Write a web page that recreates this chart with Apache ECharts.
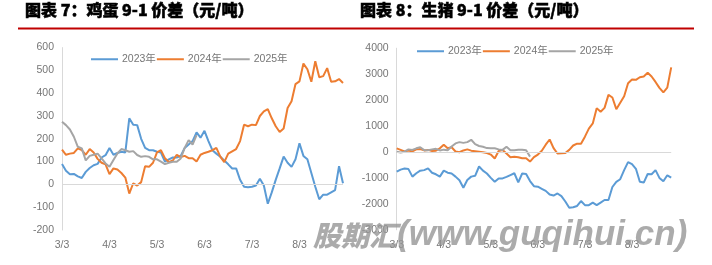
<!DOCTYPE html>
<html><head><meta charset="utf-8">
<script src="https://cdn.jsdelivr.net/npm/echarts@6/dist/echarts.min.js"></script>
<style>html,body{margin:0;padding:0;background:#fff}#c{width:712px;height:265px}</style>
</head><body><div id="c"></div>
<script>
// ---- data ----
const tickLabels = ['3/3', '4/3', '5/3', '6/3', '7/3', '8/3'];
const LABEL_STEP = 12;
const seriesNames = ['2023年', '2024年', '2025年'];
const titles = ['图表 7：鸡蛋 9-1 价差（元/吨）', '图表 8：生猪 9-1 价差（元/吨）'];
const watermarkCn = '股期汇';
const watermarkEn = '(www.guqihui.cn)';

const egg2023 = [89,60,45,46,35,28,55,72,84,90,118,128,160,130,138,143,140,290,262,260,200,160,150,150,143,140,100,110,118,118,125,160,175,190,228,205,235,190,150,135,121,105,88,70,70,20,-10,-12,-10,-5,25,-5,-85,-35,20,70,122,95,77,110,180,125,110,50,-10,-65,-45,-45,-35,-25,80,5];
const egg2024 = [152,130,135,138,158,150,130,155,140,112,95,88,45,70,65,50,30,-40,5,-5,10,80,77,95,140,150,115,98,105,130,120,125,115,115,100,130,138,143,150,160,122,98,135,145,155,190,262,255,262,260,300,320,330,290,255,230,245,335,365,440,452,530,505,450,540,470,475,510,450,452,462,445];
const egg2025 = [275,260,241,209,165,158,105,125,130,135,114,92,77,107,136,155,150,143,146,129,121,124,121,110,110,100,89,95,99,99,114,160,194,175,216];

const hog2023 = [-760,-680,-640,-660,-950,-820,-720,-700,-630,-800,-860,-950,-720,-800,-830,-950,-1090,-1380,-1080,-950,-920,-560,-720,-830,-1000,-1150,-1020,-1020,-960,-890,-820,-1170,-830,-850,-1120,-1320,-1340,-1420,-1500,-1640,-1680,-1600,-1700,-1910,-2150,-2130,-2080,-1890,-2050,-2050,-1950,-2050,-1950,-1850,-1850,-1350,-1150,-1050,-700,-390,-470,-650,-1150,-1180,-850,-860,-700,-1000,-1130,-900,-990];
const hog2024 = [140,80,20,60,20,100,110,60,80,40,50,140,280,140,180,20,-10,60,100,50,30,10,-10,-40,-100,-250,40,77,-60,-200,-180,-200,-240,-245,-370,-200,-100,50,280,480,150,-60,-50,-40,80,250,320,320,590,900,1100,1690,1550,1700,2200,2100,1650,1900,2150,2650,2790,2780,2880,2910,3050,2910,2700,2470,2300,2480,3260];
const hog2025 = [10,-20,10,100,80,140,180,70,70,100,120,60,90,70,210,330,380,350,380,470,300,230,200,150,140,140,100,80,200,70,70,90,90,70,-180];

const colors = ['#5B9BD5', '#ED7D31', '#A5A5A5'];

// ---- chart ----
const chart = echarts.init(document.getElementById('c'), null, {renderer: 'canvas'});
const cats = arr => arr.map((_, i) => 'd' + i);
const labelFont = {fontFamily: '"Liberation Sans", "Noto Sans CJK SC"', fontSize: 10.5, color: '#767676'};

function xAxisFor(gridIndex, arr) {
  return {
    type: 'category', gridIndex, data: cats(arr), boundaryGap: false,
    axisLine: {show: false, onZero: false}, axisTick: {show: false}, splitLine: {show: false},
    axisLabel: Object.assign({
      interval: LABEL_STEP - 1, margin: 10, hideOverlap: false,
      formatter: (v, idx) => (idx % LABEL_STEP === 0 ? (tickLabels[idx / LABEL_STEP] || '') : '')
    }, labelFont)
  };
}
function yAxisFor(gridIndex, min, max, interval) {
  return {
    type: 'value', gridIndex, min, max, interval,
    axisLine: {show: true, lineStyle: {color: '#d9d9d9', width: 1}},
    axisTick: {show: false}, splitLine: {show: false},
    axisLabel: Object.assign({margin: 8, formatter: v => String(v)}, labelFont)
  };
}
function line(name, data, idx, color, withZero) {
  const s = {
    name, type: 'line', xAxisIndex: idx, yAxisIndex: idx, data,
    symbol: 'none', smooth: false, lineStyle: {width: 2, color}, itemStyle: {color},
    emphasis: {disabled: true}
  };
  if (withZero) {
    s.markLine = {silent: true, symbol: 'none', label: {show: false}, animation: false,
      lineStyle: {color: '#d9d9d9', type: 'solid', width: 1}, data: [{yAxis: 0}]};
  }
  return s;
}
const legendBase = {
  data: seriesNames, icon: 'rect', itemWidth: 27, itemHeight: 2, itemGap: 1, padding: 0,
  textStyle: {fontFamily: '"Liberation Sans", "Noto Sans CJK SC"', fontSize: 10.5, color: '#767676', padding: [0, 0, 0, -1]},
  selectedMode: false
};
function titleText(text, x) {
  return {type: 'text', silent: true, z: 20, x, y: 10,
    style: {text, font: '900 16px "Noto Sans CJK SC"', fill: '#000', stroke: '#000', lineWidth: 0.5,
            verticalAlign: 'middle', align: 'left'}};
}

chart.setOption({
  animation: false,
  backgroundColor: '#ffffff',
  legend: [
    Object.assign({left: 91, top: 54}, legendBase),
    Object.assign({left: 417, top: 46}, legendBase)
  ],
  grid: [
    {left: 62, top: 47.6, width: 281, height: 182.4, containLabel: false},
    {left: 396.7, top: 48.2, width: 274.5, height: 181.6, containLabel: false}
  ],
  xAxis: [xAxisFor(0, egg2023), xAxisFor(1, hog2023)],
  yAxis: [yAxisFor(0, -200, 600, 100), yAxisFor(1, -3000, 4000, 1000)],
  series: [
    line(seriesNames[0], egg2023, 0, colors[0], true),
    line(seriesNames[1], egg2024, 0, colors[1], false),
    line(seriesNames[2], egg2025, 0, colors[2], false),
    line(seriesNames[0], hog2023, 1, colors[0], true),
    line(seriesNames[1], hog2024, 1, colors[1], false),
    line(seriesNames[2], hog2025, 1, colors[2], false)
  ],
  graphic: [
    titleText(titles[0], 25),
    titleText(titles[1], 360),
    {type: 'line', silent: true, z: 10,
     shape: {x1: 18, y1: 28.5, x2: 694, y2: 28.5},
     style: {stroke: '#C00000', lineWidth: 2}},
    {type: 'text', silent: true, z: 100, left: 313, top: 218,
     style: {
       text: '{a|' + watermarkCn + '}{b|' + watermarkEn + '}',
       rich: {
         a: {font: 'italic 900 28px "Noto Sans CJK SC"', fill: 'rgba(150,150,150,0.8)'},
         b: {font: 'italic 900 35px "Liberation Sans", "Noto Sans CJK SC"', fill: 'rgba(150,150,150,0.8)'}
       }
     }}
  ]
});
</script>
</body></html>
